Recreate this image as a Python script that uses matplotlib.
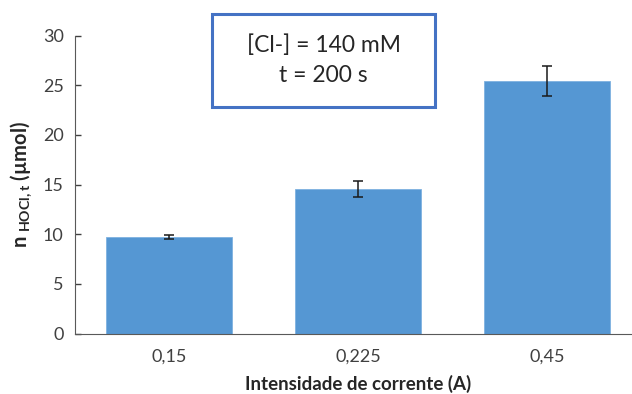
import numpy as np
from matplotlib import pyplot as plt
from matplotlib.patches import Rectangle

plt.rcParams['font.family'] = ['Lato', 'DejaVu Sans']
plt.rcParams['mathtext.fontset'] = 'custom'
plt.rcParams['mathtext.bf'] = 'Lato:bold'
plt.rcParams['mathtext.rm'] = 'Lato'

categories = ['0,15', '0,225', '0,45']
values = [9.7, 14.55, 25.45]
errors = [0.2, 0.8, 1.5]

fig = plt.figure(figsize=(6.32, 3.94), dpi=100)
ax = fig.add_axes([0.1182, 0.1533, 0.8968, 0.7561])

x = np.arange(len(categories))
ax.bar(x, values, width=0.664, color='#5597D3', edgecolor='#7FB2E0', linewidth=0.6,
       yerr=errors, capsize=3.6, error_kw=dict(ecolor='#1a1a1a', elinewidth=1.1, capthick=1.1))

ax.set_xlim(-0.5, 2.5)
ax.set_ylim(0, 30)
ax.set_yticks(range(0, 31, 5))
ax.set_xticks(x)
ax.set_xticklabels(categories)
ax.tick_params(axis='y', direction='in', length=4.5, width=1, color='#404040',
               labelsize=13, labelcolor='#404040', pad=8)
ax.tick_params(axis='x', length=0, labelsize=13, labelcolor='#404040', pad=11)

ax.spines['right'].set_color('none')
ax.spines['top'].set_color('none')
ax.spines['left'].set_color('#595959')
ax.spines['bottom'].set_color('#595959')

ax.set_xlabel('Intensidade de corrente (A)', fontsize=13.5, fontweight='bold', color='#262626', labelpad=7)
ax.set_ylabel(r'$\mathbf{n}_{\ \mathbf{HOCl,t}}$ (µmol)', fontsize=14.5, fontweight='bold',
              color='#262626', labelpad=6)

# text box
fig.patches.append(Rectangle((0.3354, 0.7284), 0.3528, 0.236, transform=fig.transFigure,
                             facecolor='white', edgecolor='#4472C4', linewidth=2.2, zorder=5))
fig.text(0.512, 0.885, '[Cl-] = 140 mM', ha='center', va='center', fontsize=16.5,
         color='#262626', zorder=6)
fig.text(0.512, 0.808, 't = 200 s', ha='center', va='center', fontsize=16.5,
         color='#262626', zorder=6)

fig.savefig('out.png', dpi=100)
